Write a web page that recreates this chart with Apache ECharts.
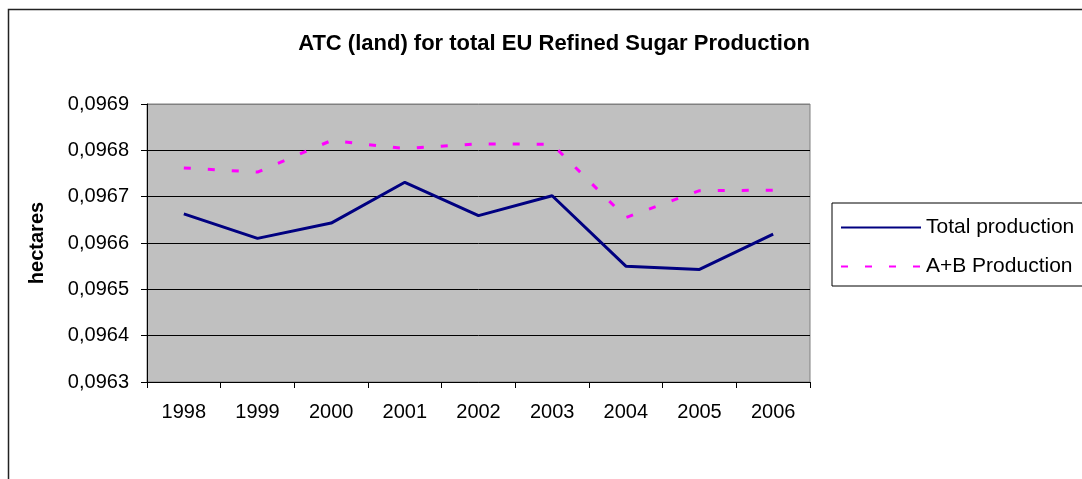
<!DOCTYPE html>
<html>
<head>
<meta charset="utf-8">
<script src="https://cdn.jsdelivr.net/npm/echarts@6/dist/echarts.min.js"></script>
<style>
  html, body { margin: 0; padding: 0; background: #fff; }
  #graph { width: 1082px; height: 479px; }
</style>
</head>
<body>
<div id="graph"></div>
<script>
// data
var years = ['1998', '1999', '2000', '2001', '2002', '2003', '2004', '2005', '2006'];
var totalProduction = [0.096663, 0.096610, 0.096643, 0.096731, 0.096659, 0.096702, 0.096550, 0.096543, 0.096619];
var abProduction = [0.096762, 0.096753, 0.096821, 0.096804, 0.096814, 0.096813, 0.096655, 0.096713, 0.096714];

var font = "'Liberation Sans', Arial, sans-serif";

var myChart = echarts.init(document.getElementById('graph'));
var option = {
    animation: false,
    title: {
        text: 'ATC (land) for total EU Refined Sugar Production',
        left: 549,
        textAlign: 'center',
        top: 28,
        textStyle: {
            fontFamily: font,
            fontSize: 22,
            fontWeight: 'bold',
            color: '#000'
        }
    },
    graphic: [{
        type: 'rect',
        shape: { x: 8.5, y: 9.5, width: 1100, height: 520 },
        style: { fill: 'none', stroke: '#222', lineWidth: 1.5 },
        silent: true
    }],
    legend: {
        orient: 'vertical',
        left: 832,
        top: 203,
        itemWidth: 80,
        itemHeight: 14,
        itemGap: 18,
        padding: [14, 20, 9, 8],
        borderColor: '#000',
        borderWidth: 1,
        backgroundColor: '#fff',
        itemStyle: { opacity: 0 },
        textStyle: {
            fontFamily: font,
            fontSize: 21,
            color: '#000'
        },
        data: ['Total production', 'A+B Production']
    },
    grid: {
        left: 147,
        top: 104,
        width: 663,
        height: 278,
        show: true,
        backgroundColor: '#c0c0c0',
        borderColor: '#808080',
        borderWidth: 1
    },
    xAxis: {
        type: 'category',
        boundaryGap: true,
        data: years,
        axisLine: { show: true, lineStyle: { color: '#000', width: 1 } },
        axisTick: { show: true, length: 6, lineStyle: { color: '#000' } },
        axisLabel: {
            margin: 20,
            fontFamily: font,
            fontSize: 20,
            color: '#000'
        },
        splitLine: { show: false }
    },
    yAxis: {
        type: 'value',
        min: 0.0963,
        max: 0.0969,
        interval: 0.0001,
        name: 'hectares',
        nameLocation: 'middle',
        nameRotate: 90,
        nameGap: 100,
        nameTextStyle: {
            fontFamily: font,
            fontSize: 20,
            fontWeight: 'bold',
            color: '#000'
        },
        axisLine: { show: true, lineStyle: { color: '#000', width: 1 } },
        axisTick: { show: true, length: 6, lineStyle: { color: '#000' } },
        axisLabel: {
            margin: 18,
            fontFamily: font,
            fontSize: 20,
            color: '#000',
            formatter: function (v) {
                return v.toFixed(4).replace('.', ',');
            }
        },
        splitLine: {
            show: true,
            lineStyle: {
                color: ['#000', '#000', '#000', '#000', '#000', '#000', '#808080'],
                width: 1
            }
        }
    },
    series: [
        {
            name: 'Total production',
            type: 'line',
            data: totalProduction,
            symbol: 'none',
            lineStyle: { color: '#000080', width: 3 },
            itemStyle: { color: '#000080' }
        },
        {
            name: 'A+B Production',
            type: 'line',
            data: abProduction,
            symbol: 'none',
            lineStyle: { color: '#ff00ff', width: 3, type: [7, 17] },
            itemStyle: { color: '#ff00ff' }
        }
    ]
};
myChart.setOption(option);
</script>
</body>
</html>
